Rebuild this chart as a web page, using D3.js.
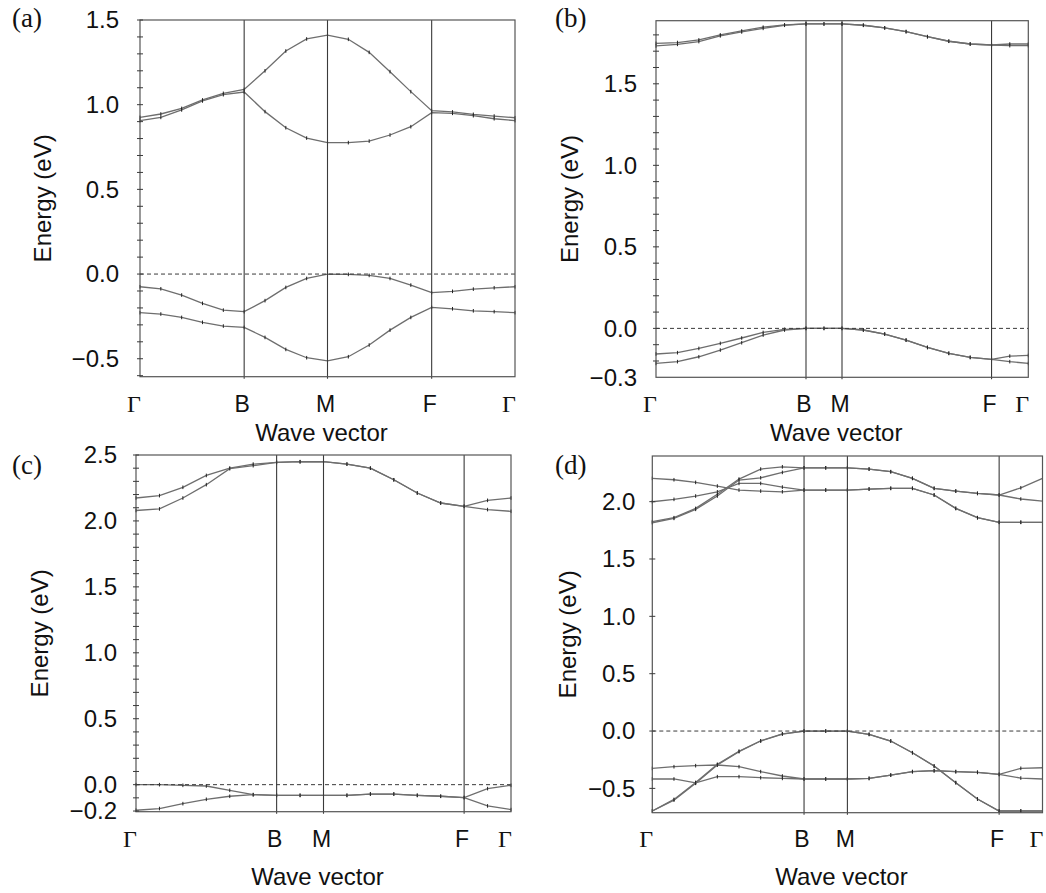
<!DOCTYPE html>
<html><head><meta charset="utf-8">
<script src="https://cdn.jsdelivr.net/npm/d3@7"></script>
<style>body{margin:0;background:#fff}svg{display:block}</style>
</head><body>
<svg id="chart" width="1046" height="893"></svg>
<script>
// ---------- DATA ----------
const symLabels = ["Γ", "B", "M", "F", "Γ"];

// panel (a)
const kA = [0,1,2,3,4,5,6,7,8,9,10,11,12,13,14,15,16,17,18];
const symA = [0,5,9,14,18];
const yTicksA = [-0.5,0.0,0.5,1.0,1.5];
const aC1 = [0.925,0.945,0.978,1.028,1.067,1.090,1.200,1.317,1.388,1.411,1.386,1.309,1.195,1.077,0.965,0.957,0.943,0.933,0.923];
const aC2 = [0.906,0.925,0.969,1.022,1.059,1.075,0.959,0.864,0.803,0.776,0.776,0.785,0.821,0.870,0.953,0.949,0.935,0.917,0.906];
const aV1 = [-0.075,-0.087,-0.124,-0.173,-0.213,-0.222,-0.157,-0.079,-0.026,0.000,-0.002,-0.008,-0.026,-0.065,-0.110,-0.102,-0.089,-0.081,-0.075];
const aV2 = [-0.228,-0.236,-0.256,-0.285,-0.307,-0.315,-0.374,-0.445,-0.494,-0.512,-0.488,-0.419,-0.331,-0.256,-0.197,-0.205,-0.217,-0.222,-0.228];

// panel (b)
const kB = [0,0.0576,0.1151,0.1727,0.2302,0.2878,0.3453,0.4029,0.4512,0.4996,0.5569,0.6143,0.6717,0.7291,0.7865,0.8439,0.9013,0.9503,1.0];
const symB = [0,0.4029,0.4996,0.9013,1.0];
const yTicksB = [-0.3,0.0,0.5,1.0,1.5];
const bC1 = [1.748,1.753,1.769,1.800,1.824,1.847,1.861,1.867,1.867,1.867,1.859,1.843,1.820,1.789,1.761,1.744,1.738,1.744,1.744];
const bC2 = [1.732,1.742,1.759,1.794,1.818,1.840,1.859,1.867,1.867,1.867,1.859,1.843,1.820,1.789,1.761,1.744,1.738,1.734,1.734];
const bV1 = [-0.157,-0.149,-0.123,-0.092,-0.059,-0.025,-0.006,0,0,0,-0.010,-0.035,-0.072,-0.117,-0.153,-0.178,-0.190,-0.170,-0.166];
const bV2 = [-0.215,-0.204,-0.174,-0.133,-0.088,-0.041,-0.010,0,0,0,-0.010,-0.035,-0.072,-0.117,-0.153,-0.178,-0.190,-0.204,-0.215];

// panel (c)
const kC = [0,1,2,3,4,5,6,7,8,9,10,11,12,13,14,15,16];
const symC = [0,6,8,14,16];
const yTicksC = [-0.2,0.0,0.5,1.0,1.5,2.0,2.5];
const cC1 = [2.174,2.192,2.255,2.345,2.401,2.431,2.444,2.449,2.449,2.431,2.400,2.312,2.212,2.136,2.111,2.156,2.174];
const cC2 = [2.079,2.091,2.174,2.275,2.396,2.419,2.444,2.449,2.449,2.431,2.400,2.312,2.212,2.136,2.111,2.086,2.073];
const cV1 = [0.000,0.000,-0.005,-0.010,-0.043,-0.076,-0.081,-0.081,-0.081,-0.081,-0.071,-0.071,-0.081,-0.088,-0.098,-0.030,-0.005];
const cV2 = [-0.194,-0.181,-0.144,-0.111,-0.088,-0.076,-0.081,-0.081,-0.081,-0.081,-0.071,-0.071,-0.081,-0.088,-0.098,-0.161,-0.189];

// panel (d)
const kD = [0,1,2,3,4,5,6,7,8,9,10,11,12,13,14,15,16,17,18];
const symD = [0,7,9,16,18];
const yTicksD = [-0.5,0.0,0.5,1.0,1.5,2.0];
const dC1 = [1.825,1.860,1.941,2.064,2.197,2.284,2.304,2.295,2.295,2.295,2.284,2.261,2.203,2.116,2.092,2.072,2.058,2.121,2.203];
const dC2 = [1.816,1.854,1.933,2.049,2.188,2.208,2.255,2.295,2.295,2.295,2.284,2.261,2.203,2.116,2.092,2.072,2.058,2.023,2.005];
const dC3 = [1.999,2.020,2.049,2.086,2.159,2.159,2.127,2.101,2.101,2.101,2.110,2.116,2.116,2.058,1.941,1.860,1.820,1.820,1.820];
const dC4 = [2.203,2.191,2.168,2.136,2.101,2.092,2.086,2.101,2.101,2.101,2.110,2.116,2.116,2.058,1.941,1.860,1.820,1.820,1.820];
const dV1 = [-0.697,-0.602,-0.456,-0.296,-0.180,-0.087,-0.026,0,0,0,-0.029,-0.087,-0.189,-0.305,-0.450,-0.593,-0.697,-0.697,-0.697];
const dV2 = [-0.697,-0.596,-0.448,-0.290,-0.176,-0.085,-0.024,0,0,0,-0.029,-0.087,-0.189,-0.305,-0.450,-0.593,-0.697,-0.697,-0.697];
const dV3 = [-0.418,-0.418,-0.452,-0.398,-0.398,-0.407,-0.413,-0.418,-0.418,-0.418,-0.413,-0.384,-0.354,-0.346,-0.354,-0.360,-0.378,-0.410,-0.418];
const dV4 = [-0.326,-0.311,-0.302,-0.296,-0.311,-0.354,-0.392,-0.418,-0.418,-0.418,-0.413,-0.384,-0.354,-0.346,-0.354,-0.360,-0.378,-0.325,-0.320];

// ---------- LAYOUT ----------
const panels = [
  {tag:"(a)", k:kA, sym:symA, bands:[aC1,aC2,aV1,aV2], yTicks:yTicksA, dom:[-0.606,1.5], minor:true,
   x0:140, x1:515, y0:20, y1:376.7, tagX:12, tagY:27, titleX:43, symY:412, wvY:441, lblGap:21},
  {tag:"(b)", k:kB, sym:symB, bands:[bC1,bC2,bV1,bV2], yTicks:yTicksB, dom:[-0.3,1.887], minor:true,
   x0:656, x1:1028.3, y0:20.7, y1:377.3, tagX:555, tagY:27, titleX:570, symY:412, wvY:441, lblGap:19},
  {tag:"(c)", k:kC, sym:symC, bands:[cC1,cC2,cV1,cV2], yTicks:yTicksC, dom:[-0.205,2.5], minor:true,
   x0:136, x1:511, y0:455, y1:811.7, tagX:12, tagY:474, titleX:40, symY:847, wvY:885, lblGap:19},
  {tag:"(d)", k:kD, sym:symD, bands:[dC1,dC2,dC3,dC4,dV1,dV2,dV3,dV4], yTicks:yTicksD, dom:[-0.712,2.398], minor:false,
   x0:652.3, x1:1042.5, y0:456, y1:812.7, tagX:555, tagY:474, titleX:568, symY:847, wvY:885, lblGap:17}
];

const svg = d3.select("#chart");
const fmt = d3.format(".1f");
const dark = "#3a3a3a";
const sans = "Liberation Sans, Arial, sans-serif";
const serif = "Liberation Serif, Times New Roman, serif";

panels.forEach(p => {
  const g = svg.append("g");
  const x = d3.scaleLinear().domain([p.k[0], p.k[p.k.length-1]]).range([p.x0, p.x1]);
  const y = d3.scaleLinear().domain(p.dom).range([p.y1, p.y0]);

  // band lines
  const line = d3.line().x((d,i)=>x(p.k[i])).y(d=>y(d));
  p.bands.forEach(b => {
    g.append("path").attr("d", line(b)).attr("fill","none")
      .attr("stroke","#6e6e6e").attr("stroke-width",1.3);
    g.selectAll(null).data(b).enter().append("line")
      .attr("x1",(d,i)=>x(p.k[i])).attr("x2",(d,i)=>x(p.k[i]))
      .attr("y1",d=>y(d)-1.8).attr("y2",d=>y(d)+1.8)
      .attr("stroke","#222").attr("stroke-width",1);
  });

  // zero dashed line
  g.append("line").attr("x1",p.x0).attr("x2",p.x1).attr("y1",y(0)).attr("y2",y(0))
    .attr("stroke",dark).attr("stroke-width",1).attr("stroke-dasharray","4,3");

  // symmetry lines
  p.sym.slice(1,4).forEach(s => {
    g.append("line").attr("x1",x(s)).attr("x2",x(s)).attr("y1",p.y0).attr("y2",p.y1+2)
      .attr("stroke",dark).attr("stroke-width",1.1);
  });

  // frame
  g.append("rect").attr("x",p.x0).attr("y",p.y0).attr("width",p.x1-p.x0).attr("height",p.y1-p.y0)
    .attr("fill","none").attr("stroke","#555").attr("stroke-width",1.2);

  // y ticks (crossing the axis)
  let tickVals = p.yTicks.slice();
  if (p.minor) {
    const lo = Math.ceil(p.dom[0]*10+1e-6), hi = Math.floor(p.dom[1]*10+1e-6);
    tickVals = d3.range(lo, hi+1).map(v=>v/10);
  }
  g.selectAll(null).data(tickVals).enter().append("line")
    .attr("x1",p.x0-3).attr("x2",p.x0+3).attr("y1",d=>y(d)).attr("y2",d=>y(d))
    .attr("stroke",dark).attr("stroke-width",1);

  // y tick labels
  g.selectAll(null).data(p.yTicks).enter().append("text")
    .attr("x",p.x0-p.lblGap).attr("y",d=>y(d)).attr("dy","0.35em")
    .attr("text-anchor","end").attr("font-family",sans)
    .attr("font-size",24).attr("fill","#111").text(d=>fmt(d));

  // y title
  g.append("text").attr("transform",`translate(${p.titleX},${(p.y0+p.y1)/2}) rotate(-90)`)
    .attr("text-anchor","middle").attr("dy","0.35em")
    .attr("font-family",sans).attr("font-size",24).attr("fill","#111")
    .text("Energy (eV)");

  // x symmetry labels
  p.sym.forEach((s,i) => {
    const isG = symLabels[i] === "Γ";
    g.append("text").attr("x", x(s) + (isG ? -6 : -2)).attr("y", p.symY)
      .attr("text-anchor","middle")
      .attr("font-family", isG ? serif : sans)
      .attr("font-size", isG ? 24 : 23).attr("fill","#111").text(symLabels[i]);
  });

  // x title
  g.append("text").attr("x",(p.x0+p.x1)/2 - 6).attr("y",p.wvY).attr("text-anchor","middle")
    .attr("font-family",sans).attr("font-size",24).attr("fill","#111")
    .text("Wave vector");

  // panel tag
  g.append("text").attr("x",p.tagX).attr("y",p.tagY)
    .attr("font-family",serif).attr("font-size",27).attr("fill","#111")
    .text(p.tag);
});
</script>
</body></html>
